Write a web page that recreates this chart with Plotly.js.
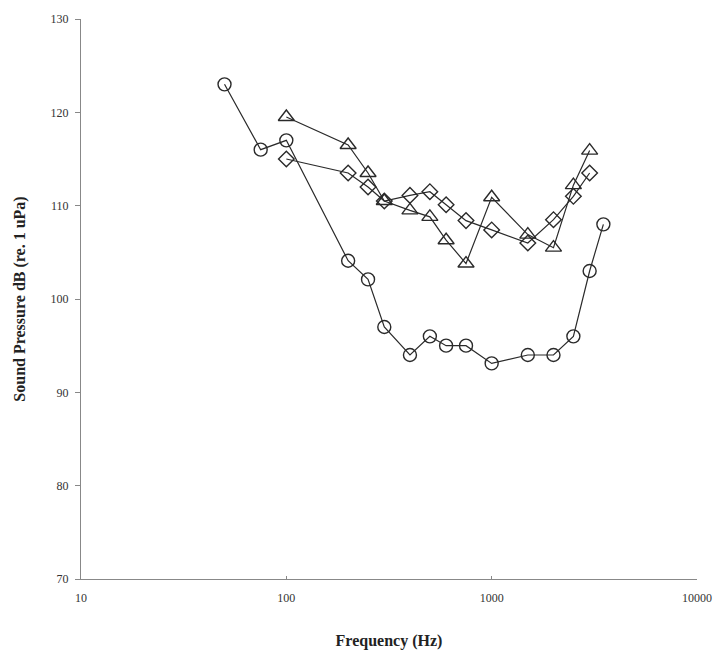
<!DOCTYPE html>
<html>
<head>
<meta charset="utf-8">
<script src="https://cdn.plot.ly/plotly-3.0.1.min.js"></script>
<style>html,body{margin:0;padding:0;background:#fff;}#chart{width:719px;height:656px;}</style>
</head>
<body>
<div id="chart"></div>
<script>
const circleFreq = [50, 75, 100, 200, 250, 300, 400, 500, 600, 750, 1000, 1500, 2000, 2500, 3000, 3500];
const circleDb   = [123, 116, 117, 104.1, 102.1, 97, 94, 96, 95, 95, 93.1, 94, 94, 96, 103, 108];

const triangleFreq = [100, 200, 250, 300, 400, 500, 600, 750, 1000, 1500, 2000, 2500, 3000];
const triangleDb   = [119.5, 116.5, 113.5, 110.5, 109.5, 108.8, 106.3, 103.8, 110.9, 106.9, 105.5, 112.2, 115.9];

const diamondFreq = [100, 200, 250, 300, 400, 500, 600, 750, 1000, 1500, 2000, 2500, 3000];
const diamondDb   = [115, 113.5, 112, 110.5, 111.1, 111.5, 110.1, 108.4, 107.4, 106, 108.5, 111, 113.5];

const xTickVals = [10, 100, 1000, 10000];
const xTickText = ['10', '100', '1000', '10000'];
const yTickVals = [70, 80, 90, 100, 110, 120, 130];

const lineColor = '#2a2a2a';
function series(x, y, symbol, size) {
  return {
    x: x, y: y, type: 'scatter', mode: 'lines+markers',
    line: {color: lineColor, width: 1.2},
    marker: {symbol: symbol, size: size, color: lineColor,
             line: {color: lineColor, width: 1.4}},
    showlegend: false, cliponaxis: false
  };
}

const data = [
  series(circleFreq, circleDb, 'circle-open', 13),
  series(triangleFreq, triangleDb, 'triangle-up-open', 14),
  series(diamondFreq, diamondDb, 'diamond-open', 12)
];

const layout = {
  width: 719, height: 656,
  paper_bgcolor: '#fff', plot_bgcolor: '#fff',
  margin: {l: 81, r: 22, t: 19, b: 77},
  font: {family: 'Liberation Serif, Times New Roman, serif', color: '#333', size: 12},
  xaxis: {
    type: 'log', range: [1, 4],
    tickvals: xTickVals, ticktext: xTickText,
    showgrid: false, zeroline: false,
    showline: true, linecolor: '#888', linewidth: 1,
    ticks: 'inside', ticklen: 3, tickcolor: '#888',
    ticklabelstandoff: 8,
    tickfont: {size: 12, color: '#333'},
    title: {text: 'Frequency (Hz)', font: {size: 16, color: '#222', family: 'Liberation Serif, serif', weight: 'bold'}, standoff: 30}
  },
  yaxis: {
    range: [70, 130],
    tickvals: yTickVals,
    showgrid: false, zeroline: false,
    showline: true, linecolor: '#888', linewidth: 1,
    ticks: 'outside', ticklen: 5, tickcolor: '#888',
    ticklabelstandoff: 4,
    tickfont: {size: 12, color: '#333'},
    title: {text: 'Sound Pressure dB (re. 1 uPa)', font: {size: 16, color: '#222', family: 'Liberation Serif, serif', weight: 'bold'}, standoff: 20}
  }
};

Plotly.newPlot('chart', data, layout, {displayModeBar: false, staticPlot: true});
</script>
</body>
</html>
